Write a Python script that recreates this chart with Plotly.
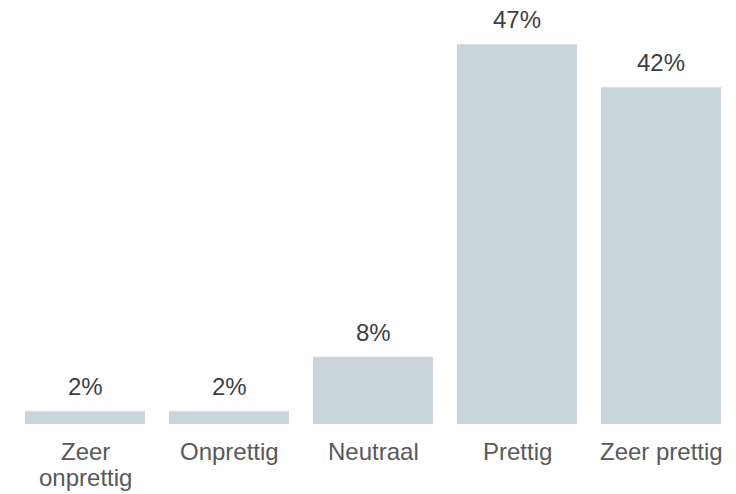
import plotly.graph_objects as go

categories = ["Zeer onprettig", "Onprettig", "Neutraal", "Prettig", "Zeer prettig"]
category_lines = [["Zeer", "onprettig"], ["Onprettig"], ["Neutraal"], ["Prettig"], ["Zeer prettig"]]
values = [1.57, 1.57, 8.32, 46.93, 41.61]
labels = ["2%", "2%", "8%", "47%", "42%"]

FONT = "Liberation Sans"

fig = go.Figure(go.Bar(
    x=categories, y=values,
    marker=dict(color="#c9d5db", line=dict(width=0)),
    hoverinfo="skip",
))

for c, v, t in zip(categories, values, labels):
    fig.add_annotation(x=c, y=v, text=t, showarrow=False, yanchor="bottom",
                       yshift=9, font=dict(family=FONT, size=24, color="#404040"))

for c, lines in zip(categories, category_lines):
    for i, line in enumerate(lines):
        fig.add_annotation(x=c, y=0, text=line, showarrow=False, yanchor="top",
                           yshift=-(12 + 26 * i),
                           font=dict(family=FONT, size=24, color="#595959"))

fig.update_layout(
    width=736, height=494,
    margin=dict(l=13, r=3, t=40, b=70),
    paper_bgcolor="white", plot_bgcolor="white",
    bargap=0.1667,
    showlegend=False,
    xaxis=dict(showgrid=False, showline=False, zeroline=False, ticks="",
               showticklabels=False, automargin=False),
    yaxis=dict(visible=False, range=[0, 47.46], showgrid=False, zeroline=False,
               automargin=False),
)

fig.write_html("out.html", config={"displayModeBar": False},
               post_script="document.body.style.margin='0';")
